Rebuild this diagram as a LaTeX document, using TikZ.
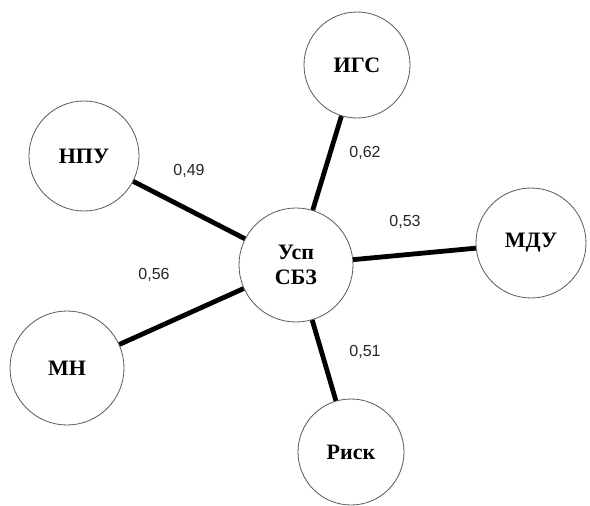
\documentclass[tikz,border=0pt]{standalone}
\usepackage{fontspec}
\setmainfont{Liberation Serif}
\newfontfamily\numfont{Liberation Sans}
\tikzset{
  factor/.style={circle, draw=black!65, line width=0.8pt, fill=white, inner sep=0pt,
    font=\fontsize{22}{26}\selectfont\bfseries, align=center},
  link/.style={line width=4.8pt},
  weight/.style={font=\fontsize{16}{19}\selectfont\numfont, text=black!85}
}
\begin{document}
\begin{tikzpicture}[x=1pt,y=-1pt]
\useasboundingbox (0,0) rectangle (590,506);
\node[factor, minimum size=114pt] (usp) at (296,265) {Усп\\[-1pt]СБЗ};
\node[factor, minimum size=106pt] (igs) at (357,65) {ИГС};
\node[factor, minimum size=110pt] (npu) at (84,156) {НПУ};
\node[factor, minimum size=110pt] (mdu) at (531,243) {МДУ};
\node[factor, minimum size=114pt] (mn) at (67,368) {МН};
\node[factor, minimum size=106pt] (risk) at (351,452) {Риск};
\draw[link] (usp) -- (igs);
\draw[link] (usp) -- (npu);
\draw[link] (usp) -- (mdu);
\draw[link] (usp) -- (mn);
\draw[link] (usp) -- (risk);
\node[weight] (w-npu) at (189,171) {0,49};
\node[weight] (w-igs) at (365,153) {0,62};
\node[weight] (w-mdu) at (405,222) {0,53};
\node[weight] (w-mn) at (154,275) {0,56};
\node[weight] (w-risk) at (365,352) {0,51};
\end{tikzpicture}
\end{document}
